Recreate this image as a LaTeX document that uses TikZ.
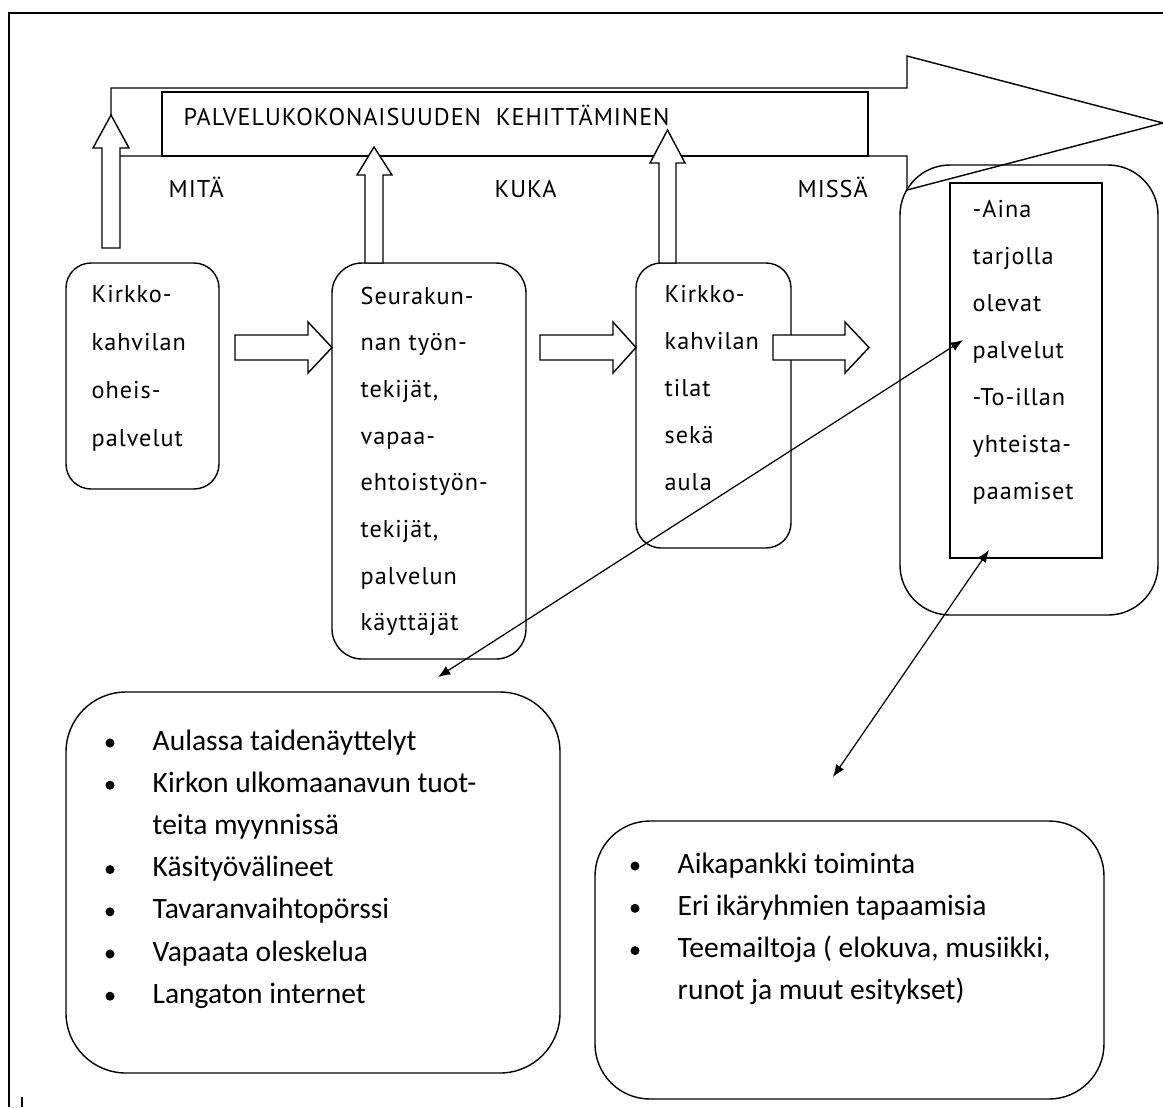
\documentclass[tikz,border=0pt]{standalone}
\usepackage{fontspec}
\setmainfont{PT Sans}[LetterSpace=4]
\newfontfamily\calib{Carlito}
\usetikzlibrary{arrows.meta,fit}
\begin{document}
\begin{tikzpicture}[x=0.02cm,y=-0.02cm,line width=0.8pt,
  rbox/.style={draw,rounded corners=#1,inner sep=0pt},
  rbox/.default=0.5cm,
  sbox/.style={draw,inner sep=0pt},
  tx/.style={font=\fontsize{13.8}{16}\selectfont,anchor=base west,inner sep=0pt},
  hd/.style={font=\fontsize{13.8}{16}\selectfont,anchor=base west,inner sep=0pt},
  bt/.style={font=\calib\fontsize{16.8}{19}\selectfont,anchor=base west,inner sep=0pt},
  bul/.style={circle,fill=black,inner sep=0pt,minimum size=0.18cm},
  blk/.style={draw,fill=white,line width=0.8pt},
  con/.style={{Latex[length=7pt,width=5.5pt]}-{Latex[length=7pt,width=5.5pt]},line width=0.7pt}]
% page
\useasboundingbox[fill=white] (0,0) rectangle (1163,1107);
% frame
\draw (9,1107) -- (9,13) -- (1163,13);
\draw[line width=1.5pt] (22,1097) -- (22,1107);
% big arrow
\draw[blk] (111,88) -- (907,88) -- (907,56) -- (1163,123) -- (907,190) -- (907,156) -- (111,156) -- cycle;
\node[sbox,fit={(162,92) (868,156)}] (band) {};
\node[hd] (hdr) at (183,125) {PALVELUKOKONAISUUDEN\ \ KEHITTÄMINEN};
\node[hd] (mita) at (168,197) {MITÄ};
\node[hd] (kuka) at (494,197) {KUKA};
\node[hd] (missa) at (797,197) {MISSÄ};
% boxes
\node[rbox=0.5cm,fit={(66,263) (219,489)}] (b1) {};
\node[rbox=0.6cm,fit={(332,263) (526,659)}] (b2) {};
\node[rbox=0.5cm,fit={(636,263) (791,548)}] (b3) {};
\node[rbox=1cm,fit={(900,165) (1158,615)}] (b4) {};
\node[sbox,fit={(950,183) (1102,558)}] (b4in) {};
\node[rbox=1.2cm,fit={(66,692) (560,1073)}] (b5) {};
\node[rbox=1.1cm,fit={(595,821) (1104,1099)}] (b6) {};
% up arrows
\draw[blk] (102,248) -- (102,148) -- (93,148) -- (111,115) -- (129,148) -- (120,148) -- (120,248) -- cycle;
\draw[blk] (365,263) -- (365,175) -- (357,175) -- (374,147) -- (392,175) -- (383,175) -- (383,263) -- cycle;
\draw[blk] (659,263) -- (659,163) -- (650,163) -- (667.5,130) -- (685,163) -- (676,163) -- (676,263) -- cycle;
% right arrows
\draw[blk] (235,335) -- (308,335) -- (308,322) -- (332,347.5) -- (308,373) -- (308,360) -- (235,360) -- cycle;
\draw[blk] (540,335) -- (613,335) -- (613,322) -- (636,347.5) -- (613,373) -- (613,360) -- (540,360) -- cycle;
\draw[blk] (773,335) -- (845,335) -- (845,322) -- (869,347.5) -- (845,373) -- (845,360) -- (773,360) -- cycle;
% texts in boxes
\foreach \t [count=\i] in {Kirkko-,kahvilan,oheis-,palvelut}
  \node[tx] (b1t\i) at (91,{302+48*(\i-1)}) {\t};
\foreach \t [count=\i] in {Seurakun-,nan työn-,{tekijät,},vapaa-,ehtoistyön-,{tekijät,},palvelun,käyttäjät}
  \node[tx] (b2t\i) at (360,{304+46.7*(\i-1)}) {\t};
\foreach \t [count=\i] in {Kirkko-,kahvilan,tilat,sekä,aula}
  \node[tx] (b3t\i) at (664,{302+47*(\i-1)}) {\t};
\foreach \t [count=\i] in {-Aina,tarjolla,olevat,palvelut,-To-illan,yhteista-,paamiset}
  \node[tx] (b4t\i) at (972,{217+47*(\i-1)}) {\t};
% bottom left list
\foreach \t [count=\i] in {Aulassa taidenäyttelyt,Kirkon ulkomaanavun tuot-,teita myynnissä,Käsityövälineet,Tavaranvaihtopörssi,Vapaata oleskelua,Langaton internet}
  \node[bt] (b5t\i) at (152,{750+42.2*(\i-1)}) {\t};
\foreach \i in {1,2,4,5,6,7}
  \node[bul] (b5b\i) at (110,{743+42.2*(\i-1)}) {};
% bottom right list
\foreach \t [count=\i] in {Aikapankki toiminta,Eri ikäryhmien tapaamisia,{Teemailtoja ( elokuva, musiikki,},runot ja muut esitykset)}
  \node[bt] (b6t\i) at (677,{873+42.3*(\i-1)}) {\t};
\foreach \i in {1,2,3}
  \node[bul] (b6b\i) at (635,{866+42.3*(\i-1)}) {};
% connectors
\coordinate (c1a) at (438,677);
\coordinate (c1b) at (963,340);
\coordinate (c2a) at (833,777);
\coordinate (c2b) at (989,550);
\draw[con] (c1a) -- (c1b);
\draw[con] (c2a) -- (c2b);
\end{tikzpicture}
\end{document}
